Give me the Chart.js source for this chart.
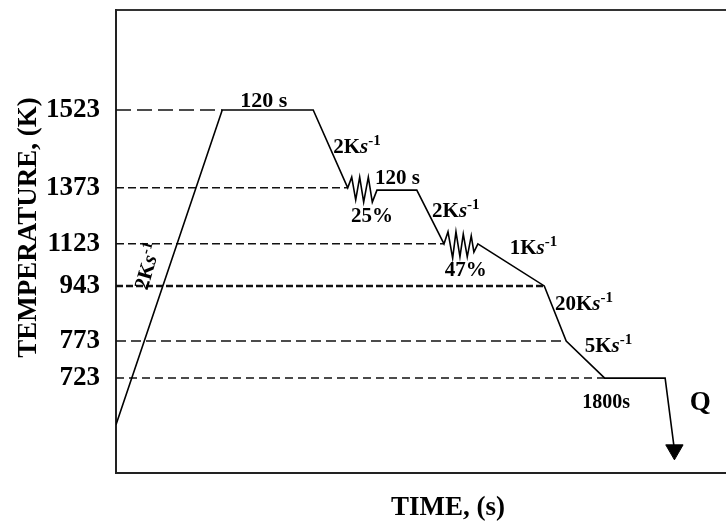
<!DOCTYPE html>
<html>
<head>
<meta charset="utf-8">
<script src="https://cdn.jsdelivr.net/npm/chart.js@4.4.1/dist/chart.umd.min.js"></script>
<style>
    html, body { margin: 0; padding: 0; background: #fff; overflow: hidden; }
    #wrap { width: 780px; height: 524px; }
</style>
</head>
<body>
<div id="wrap"><canvas id="myChart"></canvas></div>
<script>
// Schematic schedule: time has no scale, temperature sits on fixed levels
const tempLabels = ['1523', '1373', '1123', '943', '773', '723'];
const tempLevels = [78.4, 61.6, 49.5, 40.4, 28.5, 20.5];

// path of the schedule (schematic time, temperature level)
const pathTime  = [0, 16.0, 29.7, 34.9, 35.5, 36.1, 36.7, 37.3, 38.0, 38.6, 39.3, 40.1, 45.3,
                   49.4, 50.0, 50.7, 51.2, 51.8, 52.3, 52.9, 53.5, 53.9, 54.5,
                   64.5, 67.8, 73.6, 82.7, 84.1];
const pathLevel = [10.4, 78.4, 78.4, 61.6, 63.9, 59.0, 63.9, 58.5, 63.9, 58.5, 61.1, 61.1, 61.1,
                   49.5, 52.1, 46.4, 52.1, 46.7, 51.6, 46.7, 51.2, 47.7, 49.5,
                   40.4, 28.5, 20.5, 20.5, 5.0];

// text notes on the schedule
const holdNotes   = ['120 s', '120 s', '25%', '47%', '1800s', 'Q'];
const rateNotes   = ['2', '2', '1', '20', '5', '2'];

const FONT = '"Liberation Serif", "Times New Roman", serif';

// dash style of each guide line
const guideDash  = [[15, 6], [8, 4], [8, 4], [7, 3], [10, 5], [8, 5]];
const guideWidth = [1.5, 1.5, 1.5, 2.5, 1.5, 1.5];

const pathPoints = pathTime.map((t, i) => ({ x: t, y: pathLevel[i] }));

// each dashed guide runs from the axis to where the path reaches that level
const guideSets = tempLevels.map((lv, k) => {
    const idx = pathLevel.findIndex((v, i) => i > 0 && v === lv);
    return {
        type: 'line',
        data: [{ x: 0, y: lv }, { x: pathTime[idx], y: lv }],
        borderColor: '#111',
        borderWidth: guideWidth[k],
        borderDash: guideDash[k],
        pointRadius: 0
    };
});

// where the notes sit (schematic units) and how big
const holdPos = [
    { x: 18.7, y: 79.0, size: 22 },
    { x: 39.0, y: 62.4, size: 21 },
    { x: 35.4, y: 54.2, size: 21 },
    { x: 49.5, y: 42.5, size: 21 },
    { x: 70.2, y: 14.0, size: 20 },
    { x: 86.4, y: 13.6, size: 27 }
];
const ratePos = [
    { x: 32.7, y: 69.1, size: 21 },
    { x: 47.6, y: 55.3, size: 21 },
    { x: 59.3, y: 47.3, size: 21 },
    { x: 66.1, y: 35.2, size: 21 },
    { x: 70.6, y: 26.1, size: 21 },
    { x: 4.7, y: 44.7, size: 21, angle: -74 }
];

function rateWidth(ctx, rate, size) {
    ctx.font = `bold ${size}px ${FONT}`;
    let w = ctx.measureText(rate + 'K').width;
    ctx.font = `italic bold ${size}px ${FONT}`;
    w += ctx.measureText('s').width;
    ctx.font = `bold ${Math.round(size * 0.7)}px ${FONT}`;
    return w + ctx.measureText('-1').width;
}

function drawRate(ctx, rate, x, y, size) {
    ctx.textAlign = 'left';
    ctx.textBaseline = 'alphabetic';
    ctx.font = `bold ${size}px ${FONT}`;
    ctx.fillText(rate + 'K', x, y);
    x += ctx.measureText(rate + 'K').width;
    ctx.font = `italic bold ${size}px ${FONT}`;
    ctx.fillText('s', x, y);
    x += ctx.measureText('s').width;
    ctx.font = `bold ${Math.round(size * 0.7)}px ${FONT}`;
    ctx.fillText('-1', x, y - size * 0.38);
}

const notesPlugin = {
    id: 'notes',
    afterDatasetsDraw(chart) {
        const { ctx, scales: { x, y }, chartArea } = chart;
        ctx.save();
        ctx.fillStyle = '#000';

        holdNotes.forEach((txt, i) => {
            const p = holdPos[i];
            ctx.font = `bold ${p.size}px ${FONT}`;
            ctx.textAlign = 'left';
            ctx.textBaseline = 'alphabetic';
            ctx.fillText(txt, x.getPixelForValue(p.x), y.getPixelForValue(p.y));
        });

        rateNotes.forEach((r, i) => {
            const p = ratePos[i];
            const px = x.getPixelForValue(p.x);
            const py = y.getPixelForValue(p.y);
            if (p.angle) {
                const w = rateWidth(ctx, r, p.size);
                ctx.save();
                ctx.translate(px, py);
                ctx.rotate(p.angle * Math.PI / 180);
                drawRate(ctx, r, -w / 2, p.size * 0.33, p.size);
                ctx.restore();
            } else {
                drawRate(ctx, r, px, py, p.size);
            }
        });

        // y axis title
        ctx.translate(chartArea.left - 87, (chartArea.top + chartArea.bottom) / 2 - 14);
        ctx.rotate(-Math.PI / 2);
        ctx.font = `bold 27px ${FONT}`;
        ctx.textAlign = 'center';
        ctx.textBaseline = 'middle';
        ctx.fillText('TEMPERATURE, (K)', 0, 0);
        ctx.restore();
    }
};

Chart.defaults.font.family = FONT;
Chart.defaults.color = '#000';

const ctx = document.getElementById('myChart').getContext('2d');
new Chart(ctx, {
    type: 'line',
    data: {
        datasets: [
            {
                data: pathPoints,
                borderColor: '#000',
                borderWidth: 1.6,
                pointRadius: 0,
                tension: 0
            },
            {
                type: 'scatter',
                data: [pathPoints[pathPoints.length - 1]],
                pointStyle: 'triangle',
                rotation: 180,
                pointRadius: 10,
                backgroundColor: '#000',
                borderColor: '#000',
                clip: false
            },
            ...guideSets
        ]
    },
    options: {
        responsive: true,
        maintainAspectRatio: false,
        animation: false,
        layout: { padding: 0, autoPadding: false },
        plugins: {
            legend: { display: false },
            tooltip: { enabled: false }
        },
        scales: {
            x: {
                type: 'linear',
                position: 'bottom',
                min: 0,
                max: 100,
                ticks: { display: false },
                grid: { display: false },
                border: { display: true, color: '#222', width: 2 },
                title: {
                    display: true,
                    text: 'TIME, (s)',
                    font: { size: 27, weight: 'bold' },
                    padding: { top: 0, bottom: 0 }
                },
                afterFit(scale) {
                    scale.height = 51;
                    scale.paddingLeft = 0;
                    scale.paddingRight = 0;
                }
            },
            top: {
                type: 'linear',
                axis: 'x',
                position: 'top',
                min: 0,
                max: 100,
                ticks: { display: false },
                grid: { display: false },
                border: { display: true, color: '#333', width: 2 },
                afterFit(scale) {
                    scale.height = 10;
                    scale.paddingLeft = 0;
                    scale.paddingRight = 0;
                }
            },
            y: {
                type: 'linear',
                min: 0,
                max: 100,
                grid: { display: false, drawTicks: false },
                border: { display: true, color: '#222', width: 2 },
                ticks: {
                    autoSkip: false,
                    padding: 16,
                    font: { size: 27, weight: 'bold' },
                    callback: (v, i) => tempLabels[i]
                },
                afterBuildTicks(scale) {
                    scale.ticks = tempLevels.map(v => ({ value: v }));
                },
                afterFit(scale) {
                    scale.width = 116;
                    scale.paddingTop = 0;
                    scale.paddingBottom = 0;
                }
            }
        }
    },
    plugins: [notesPlugin]
});
</script>
</body>
</html>
